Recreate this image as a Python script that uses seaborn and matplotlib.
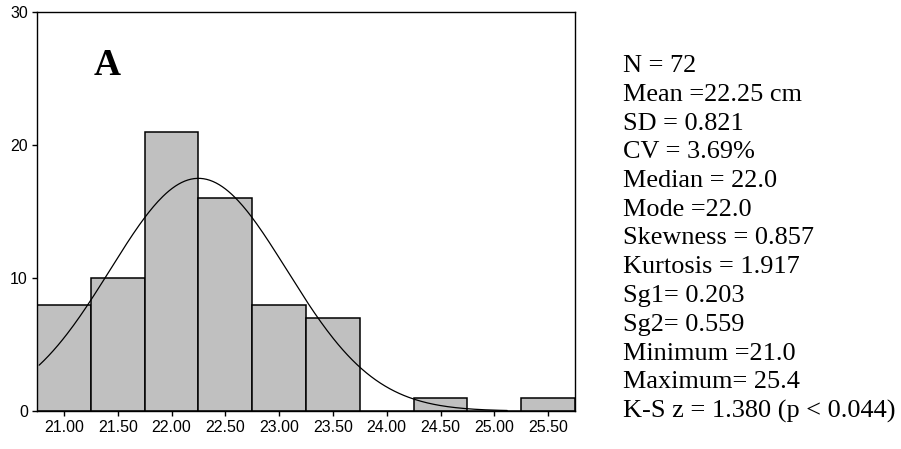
import numpy as np
import pandas as pd
import matplotlib
matplotlib.use("Agg")
import matplotlib.pyplot as plt
import seaborn as sns

# Data
bin_centers = [21.00, 21.50, 22.00, 22.50, 23.00, 23.50, 24.00, 24.50, 25.00, 25.50]
counts = [8, 10, 21, 16, 8, 7, 0, 1, 0, 1]
tick_labels = ["21.00", "21.50", "22.00", "22.50", "23.00", "23.50", "24.00", "24.50", "25.00", "25.50"]
y_ticks = [0, 10, 20, 30]
n_obs = 72
mean_val = 22.25
sd_val = 0.821
bin_width = 0.5
stats_lines = [
    "N = 72",
    "Mean =22.25 cm",
    "SD = 0.821",
    "CV = 3.69%",
    "Median = 22.0",
    "Mode =22.0",
    "Skewness = 0.857",
    "Kurtosis = 1.917",
    "Sg1= 0.203",
    "Sg2= 0.559",
    "Minimum =21.0",
    "Maximum= 25.4",
    "K-S z = 1.380 (p < 0.044)",
]

sns.set_theme(style="white")
plt.rcParams["font.family"] = ["Liberation Sans", "DejaVu Sans"]

fig = plt.figure(figsize=(9.01, 4.49), dpi=100)
ax = fig.add_axes([37 / 901, 1 - 411 / 449, (575 - 37) / 901, (411 - 12) / 449])

df = pd.DataFrame({"x": bin_centers, "w": counts})
edges = [c - bin_width / 2 for c in bin_centers] + [bin_centers[-1] + bin_width / 2]
sns.histplot(data=df, x="x", weights="w", bins=edges, ax=ax,
             color="#c0c0c0", edgecolor="black", linewidth=1.1, alpha=1.0)

# Fitted normal curve (from the stated mean and SD)
xs = np.linspace(20.77, 25.12, 300)
ys = n_obs * bin_width * np.exp(-0.5 * ((xs - mean_val) / sd_val) ** 2) / (sd_val * np.sqrt(2 * np.pi))
sns.lineplot(x=xs, y=ys, ax=ax, color="black", linewidth=0.9)

ax.set_xlim(edges[0], edges[-1])
ax.set_ylim(0, 30)
ax.set_xticks(bin_centers)
ax.set_xticklabels(tick_labels)
ax.set_yticks(y_ticks)
ax.set_xlabel("")
ax.set_ylabel("")
ax.tick_params(axis="both", which="both", direction="out", length=3.5, width=1.0,
               labelsize=11.5, colors="black", bottom=True, left=True, pad=3)
for s in ax.spines.values():
    s.set_visible(True)
    s.set_color("black")
    s.set_linewidth(1.0)

ax.text(21.40, 26.0, "A", fontsize=27, fontweight="bold", family=["Liberation Serif", "DejaVu Serif"],
        ha="center", va="center", color="black")

top_px = 66
step_px = 28.75
for i, line in enumerate(stats_lines):
    y_px = top_px + i * step_px
    fig.text(623 / 901, 1 - y_px / 449, line, fontsize=18.9,
             family=["Liberation Serif", "DejaVu Serif"], ha="left", va="center", color="black")

fig.savefig("out.png", dpi=100)
